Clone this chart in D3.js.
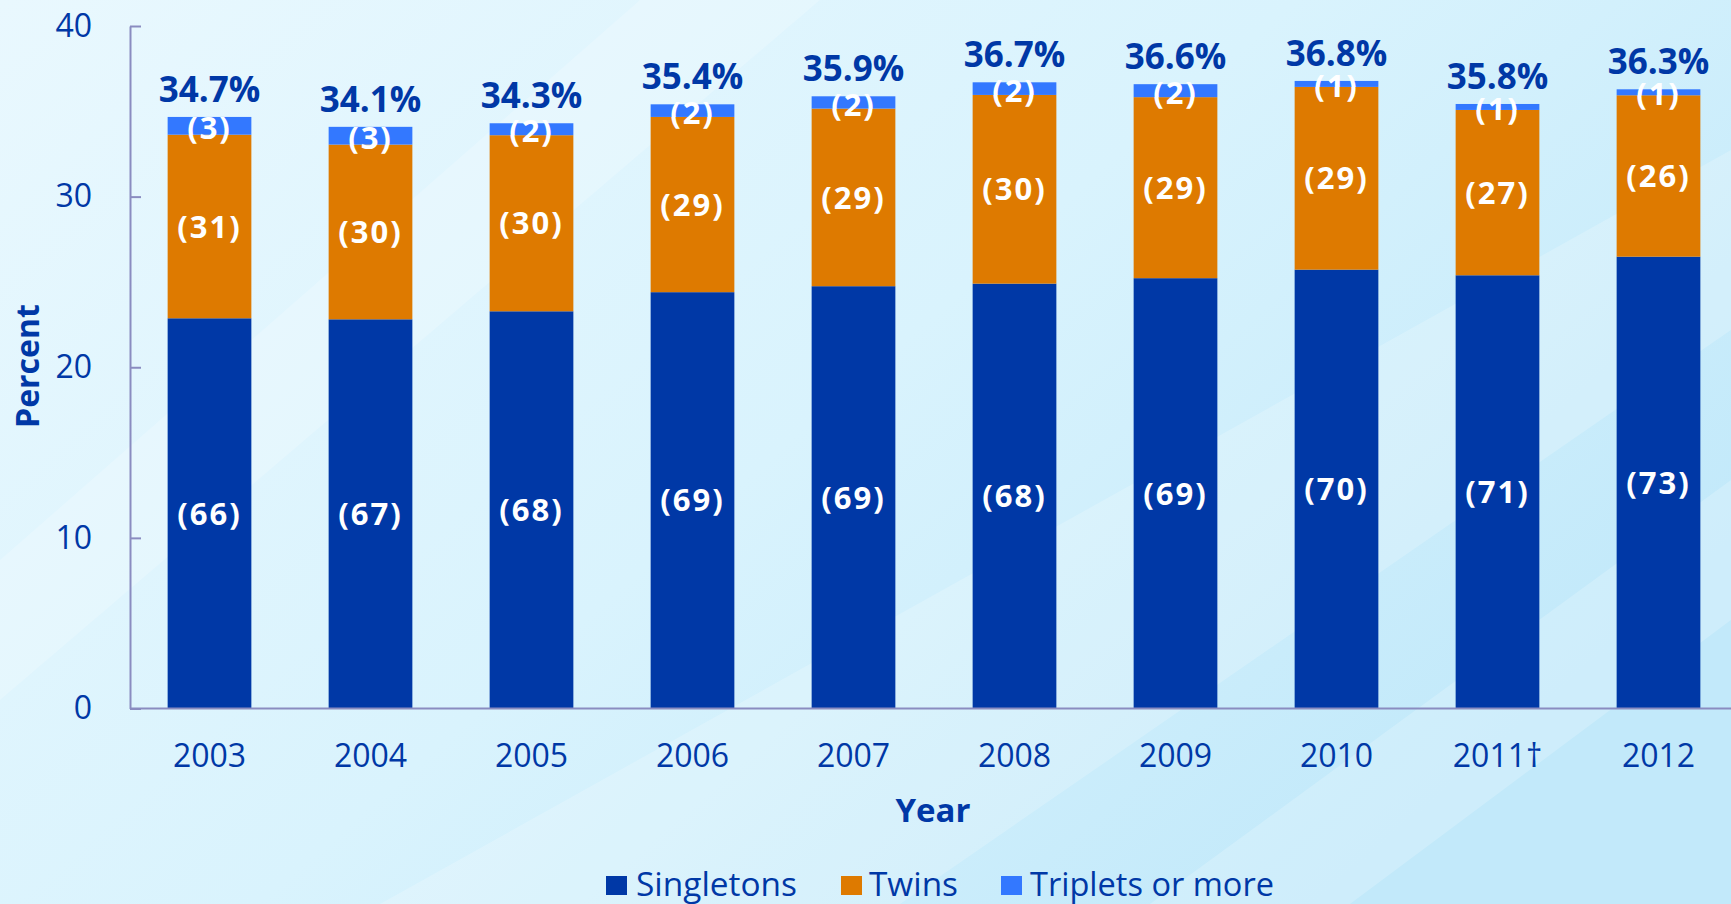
<!doctype html>
<html lang="en">
    <head>
        <meta charset="utf-8">
        <title>ART infants by plurality</title>
        <script type="text/javascript" src="https://cdn.jsdelivr.net/npm/d3@7"></script>
        <style>
            body { margin: 0; background: #e4f6fd; }
            text { font-family: "Open Sans", "Noto Sans", sans-serif; }
        </style>
    </head>
    <body>
        <script type="text/javascript">

            var svgW = 1731;
            var svgH = 904;

            // data
            var years = ["2003", "2004", "2005", "2006", "2007", "2008", "2009", "2010", "2011\u2020", "2012"];
            var singletons = [22.87, 22.81, 23.28, 24.40, 24.75, 24.90, 25.22, 25.72, 25.39, 26.48];
            var twins = [10.76, 10.24, 10.32, 10.27, 10.41, 11.06, 10.61, 10.71, 9.69, 9.46];
            var triplets = [1.04, 1.04, 0.70, 0.74, 0.72, 0.74, 0.76, 0.35, 0.35, 0.35];
            var totalLabels = ["34.7%", "34.1%", "34.3%", "35.4%", "35.9%", "36.7%", "36.6%", "36.8%", "35.8%", "36.3%"];
            var singletonShare = ["(66)", "(67)", "(68)", "(69)", "(69)", "(68)", "(69)", "(70)", "(71)", "(73)"];
            var twinShare = ["(31)", "(30)", "(30)", "(29)", "(29)", "(30)", "(29)", "(29)", "(27)", "(26)"];
            var tripletShare = ["(3)", "(3)", "(2)", "(2)", "(2)", "(2)", "(2)", "(1)", "(1)", "(1)"];
            var yTicks = [0, 10, 20, 30, 40];
            var seriesNames = ["Singletons", "Twins", "Triplets or more"];

            var keys = ["singletons", "twins", "triplets"];
            var colors = {singletons: "#0038a6", twins: "#de7a00", triplets: "#3378ff"};
            var shares = {singletons: singletonShare, twins: twinShare, triplets: tripletShare};
            var navy = "#0038a6";

            var rows = years.map((yr, i) => ({
                year: yr,
                singletons: singletons[i],
                twins: twins[i],
                triplets: triplets[i],
                idx: i
            }));

            var svg = d3.select("body")
                        .append("svg")
                        .attr("width", svgW)
                        .attr("height", svgH)
                        .style("display", "block");

            // background
            var defs = svg.append("defs");
            var grad = defs.append("linearGradient")
                           .attr("id", "bg")
                           .attr("x1", "0").attr("y1", "0")
                           .attr("x2", "1").attr("y2", "0.6");
            grad.append("stop").attr("offset", "0%").attr("stop-color", "#e9f8fe");
            grad.append("stop").attr("offset", "55%").attr("stop-color", "#d9f3fd");
            grad.append("stop").attr("offset", "100%").attr("stop-color", "#c2e9fa");

            svg.append("rect")
               .attr("width", svgW)
               .attr("height", svgH)
               .attr("fill", "url(#bg)");

            // soft diagonal streaks
            var streaks = [
                [[380, 904], [900, 904], [1731, 330], [1731, 150]],
                [[0, 560], [0, 700], [820, 0], [640, 0]],
                [[1150, 904], [1350, 904], [1731, 620], [1731, 480]]
            ];
            svg.selectAll(".streak")
               .data(streaks)
               .enter()
               .append("polygon")
               .attr("class", "streak")
               .attr("points", d => d.map(p => p.join(",")).join(" "))
               .attr("fill", "#ffffff")
               .attr("opacity", 0.2);

            var x = d3.scaleBand()
                      .domain(years)
                      .range([129, 1739])
                      .paddingInner(0.48)
                      .paddingOuter(0.24);

            var y = d3.scaleLinear()
                      .domain([0, 40])
                      .range([708.5, 26]);

            var stack = d3.stack().keys(keys);
            var series = stack(rows);

            // bars
            var layers = svg.selectAll(".layer")
                            .data(series)
                            .enter()
                            .append("g")
                            .attr("class", "layer")
                            .attr("fill", d => colors[d.key]);

            layers.selectAll("rect")
                  .data(d => d)
                  .enter()
                  .append("rect")
                  .attr("x", d => x(d.data.year))
                  .attr("y", d => y(d[1]))
                  .attr("width", x.bandwidth())
                  .attr("height", d => y(d[0]) - y(d[1]));

            // axes
            var yAxis = d3.axisLeft(y)
                          .tickValues(yTicks)
                          .tickSizeInner(-11)
                          .tickSizeOuter(0)
                          .tickPadding(38);

            var gy = svg.append("g")
                        .attr("transform", "translate(130,0)")
                        .call(yAxis);
            gy.selectAll("path, line")
              .attr("stroke", "#8a8cc0")
              .attr("stroke-width", 2);
            gy.selectAll("text")
              .attr("fill", navy)
              .style("font-size", "32px");

            var xAxis = d3.axisBottom(x)
                          .tickSize(0)
                          .tickPadding(36);

            var gx = svg.append("g")
                        .attr("transform", "translate(0,708.5)")
                        .call(xAxis);
            gx.select(".domain")
              .attr("d", "M130,0H" + svgW)
              .attr("stroke", "#8a8cc0")
              .attr("stroke-width", 2);
            gx.selectAll("text")
              .attr("fill", navy)
              .style("font-size", "32px");

            // labels inside segments
            layers.each(function(s) {
                d3.select(this.parentNode)
                  .append("g")
                  .selectAll("text")
                  .data(s)
                  .enter()
                  .append("text")
                  .attr("x", d => x(d.data.year) + x.bandwidth() / 2)
                  .attr("y", d => (y(d[0]) + y(d[1])) / 2 + (s.key == "triplets" ? 2 : 0))
                  .attr("dy", "0.36em")
                  .attr("text-anchor", "middle")
                  .attr("fill", "#ffffff")
                  .style("font-size", "31px")
                  .style("font-weight", "700")
                  .style("letter-spacing", "2px")
                  .text(d => shares[s.key][d.data.idx]);
            });

            // totals above bars
            svg.append("g")
               .selectAll("text")
               .data(series[series.length - 1])
               .enter()
               .append("text")
               .attr("x", d => x(d.data.year) + x.bandwidth() / 2)
               .attr("y", d => y(d[1]) - 15)
               .attr("text-anchor", "middle")
               .attr("fill", navy)
               .style("font-size", "35px")
               .style("font-weight", "700")
               .text(d => totalLabels[d.data.idx]);

            // axis titles
            svg.append("text")
               .attr("x", 933)
               .attr("y", 822)
               .attr("text-anchor", "middle")
               .attr("fill", navy)
               .style("font-size", "33px")
               .style("font-weight", "700")
               .text("Year");

            svg.append("text")
               .attr("transform", "translate(39,366) rotate(-90)")
               .attr("text-anchor", "middle")
               .attr("fill", navy)
               .style("font-size", "32px")
               .style("font-weight", "700")
               .text("Percent");

            // legend
            var legendPos = [
                {sx: 606, tx: 636, len: 161},
                {sx: 841, tx: 869, len: 89},
                {sx: 1001, tx: 1030, len: 244}
            ];
            var legend = svg.append("g")
                            .selectAll("g")
                            .data(keys)
                            .enter()
                            .append("g");
            legend.append("rect")
                  .attr("x", (d, i) => legendPos[i].sx)
                  .attr("y", 876)
                  .attr("width", 21)
                  .attr("height", 19)
                  .attr("fill", d => colors[d]);
            legend.append("text")
                  .attr("x", (d, i) => legendPos[i].tx)
                  .attr("y", 896)
                  .attr("fill", navy)
                  .attr("textLength", (d, i) => legendPos[i].len)
                  .attr("lengthAdjust", "spacingAndGlyphs")
                  .style("font-size", "32px")
                  .text((d, i) => seriesNames[i]);
        </script>
    </body>
</html>
